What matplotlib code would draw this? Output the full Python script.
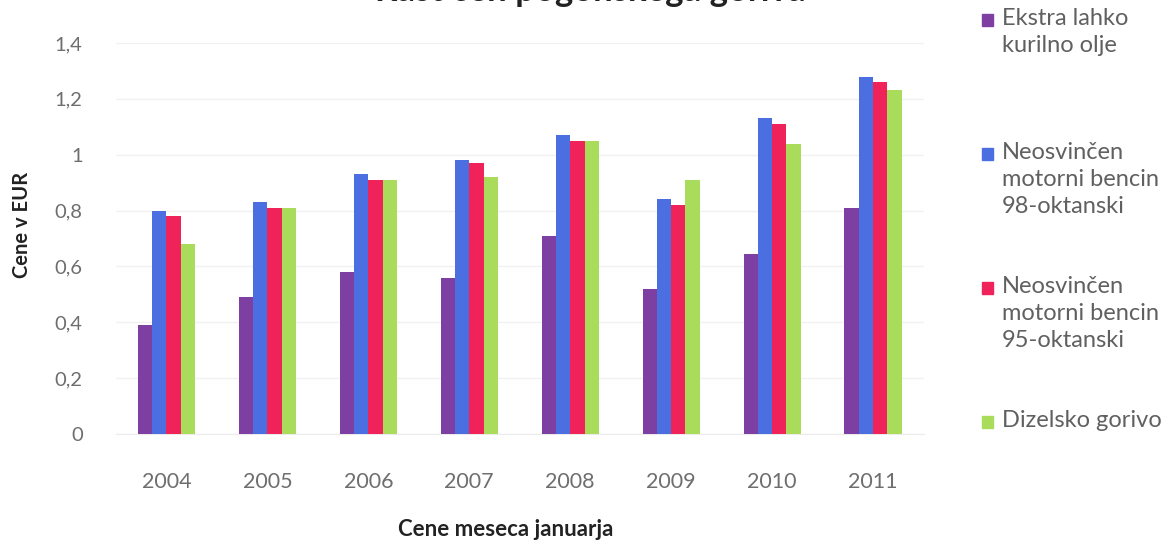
import matplotlib.pyplot as plt
from matplotlib.patches import Rectangle
import numpy as np

years = ['2004', '2005', '2006', '2007', '2008', '2009', '2010', '2011']
kurilno = [0.39, 0.49, 0.58, 0.56, 0.71, 0.52, 0.645, 0.81]
bencin98 = [0.80, 0.83, 0.93, 0.98, 1.07, 0.84, 1.13, 1.28]
bencin95 = [0.78, 0.81, 0.91, 0.97, 1.05, 0.82, 1.11, 1.26]
dizel = [0.68, 0.81, 0.91, 0.92, 1.05, 0.91, 1.04, 1.23]

labels = ['Ekstra lahko\nkurilno olje',
          'Neosvinčen\nmotorni bencin\n98-oktanski',
          'Neosvinčen\nmotorni bencin\n95-oktanski',
          'Dizelsko gorivo']
colors = ['#7e3fa3', '#4b6fe0', '#f0225a', '#a9dc5b']
series = [kurilno, bencin98, bencin95, dizel]

plt.rcParams['font.family'] = ['Lato', 'DejaVu Sans']

fig = plt.figure(figsize=(11.7, 5.4), dpi=100)
ax = fig.add_axes([116 / 1170, 1 - 434 / 540, (923.5 - 116) / 1170, (434 - 43) / 540])

x = np.arange(len(years))
w = 0.1415
for i, (vals, c) in enumerate(zip(series, colors)):
    ax.bar(x + (i - 1.5) * w, vals, w, color=c, zorder=3)

ax.set_xlim(-0.5, len(years) - 0.5)
ax.set_ylim(0, 1.4)
ax.set_yticks(np.arange(0, 1.41, 0.2))
ax.set_yticklabels(['0', '0,2', '0,4', '0,6', '0,8', '1', '1,2', '1,4'])
ax.set_xticks(x)
ax.set_xticklabels(years)
ax.tick_params(axis='y', length=0, pad=24, labelsize=14.5, labelcolor='#6e6e6e')
ax.tick_params(axis='x', length=0, pad=27, labelsize=15.5, labelcolor='#6e6e6e')
ax.grid(axis='y', color='#f1f1f1', lw=1, zorder=0)
for s in ['top', 'right', 'left']:
    ax.spines[s].set_visible(False)
ax.spines['bottom'].set_color('#ebebeb')

fig.text(22 / 1170, 1 - 225 / 540, 'Cene v EUR', rotation=90, ha='center', va='center',
         fontsize=14.5, fontweight='bold', color='#222222')
fig.text(506 / 1170, 1 - 536 / 540, 'Cene meseca januarja', ha='center', va='baseline',
         fontsize=16, fontweight='bold', color='#222222')
# naslov je v izvirniku odrezan - vidni so le repki črk
fig.text(590 / 1170, 1 - 1 / 540, 'Rast cen pogonskega goriva', ha='center', va='baseline',
         fontsize=25, fontweight='bold', color='#222222')

# legenda
for i, (lab, c) in enumerate(zip(labels, colors)):
    ytop = 20 + i * 134
    fig.patches.append(Rectangle((982 / 1170, 1 - (ytop + 6) / 540), 11 / 1170, 12 / 540,
                                 transform=fig.transFigure, color=c))
    fig.text(1002 / 1170, 1 - (ytop - 12) / 540, lab, ha='left', va='top', fontsize=17,
             color='#606060', linespacing=1.35)

plt.savefig('out.png')
